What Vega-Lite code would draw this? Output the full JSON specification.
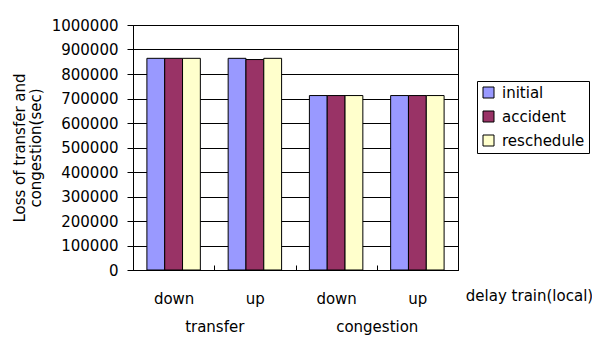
{
  "$schema": "https://vega.github.io/schema/vega-lite/v6.json",
  "width": 325,
  "height": 245,
  "autosize": {"type": "none"},
  "padding": {"left": 133, "top": 25, "right": 134, "bottom": 80},
  "background": "white",
  "config": {
    "font": "DejaVu Sans",
    "view": {"stroke": "black", "strokeWidth": 1},
    "axis": {
      "labelFont": "DejaVu Sans",
      "labelFontSize": 15,
      "labelColor": "black",
      "titleFont": "DejaVu Sans",
      "titleFontSize": 15,
      "titleFontWeight": "normal",
      "titleColor": "black"
    }
  },
  "data": {
    "values": [
      {"key": "transfer/down", "group": "transfer", "series": "initial", "value": 864000},
      {"key": "transfer/down", "group": "transfer", "series": "accident", "value": 864000},
      {"key": "transfer/down", "group": "transfer", "series": "reschedule", "value": 864000},
      {"key": "transfer/up", "group": "transfer", "series": "initial", "value": 864000},
      {"key": "transfer/up", "group": "transfer", "series": "accident", "value": 859000},
      {"key": "transfer/up", "group": "transfer", "series": "reschedule", "value": 864000},
      {"key": "congestion/down", "group": "congestion", "series": "initial", "value": 712000},
      {"key": "congestion/down", "group": "congestion", "series": "accident", "value": 712000},
      {"key": "congestion/down", "group": "congestion", "series": "reschedule", "value": 712000},
      {"key": "congestion/up", "group": "congestion", "series": "initial", "value": 712000},
      {"key": "congestion/up", "group": "congestion", "series": "accident", "value": 712000},
      {"key": "congestion/up", "group": "congestion", "series": "reschedule", "value": 712000}
    ]
  },
  "layer": [
    {
      "mark": {"type": "bar", "stroke": "black", "strokeWidth": 1},
      "encoding": {
        "x": {
          "field": "key",
          "type": "nominal",
          "sort": null,
          "scale": {"paddingInner": 0, "paddingOuter": 0},
          "axis": {
            "labelExpr": "split(datum.value, '/')[1]",
            "labelAngle": 0,
            "tickBand": "extent",
            "tickSize": -5,
            "tickColor": "black",
            "domainColor": "black",
            "labelPadding": 26,
            "title": "delay train(local)",
            "titleX": 396,
            "titleY": 25,
            "titleBaseline": "middle",
            "titleAlign": "center"
          }
        },
        "xOffset": {
          "field": "series",
          "sort": ["initial", "accident", "reschedule"],
          "scale": {"paddingInner": 0, "paddingOuter": 0.78}
        },
        "y": {
          "field": "value",
          "type": "quantitative",
          "scale": {"domain": [0, 1000000], "nice": false},
          "axis": {
            "values": [0, 100000, 200000, 300000, 400000, 500000, 600000, 700000, 800000, 900000, 1000000],
            "format": "d",
            "labelOverlap": false,
            "tickSize": 6,
            "tickColor": "black",
            "domainColor": "black",
            "gridColor": "black",
            "gridOpacity": 1,
            "labelPadding": 9,
            "title": ["Loss of transfer and", "congestion(sec)"],
            "titleX": -113.5,
            "titleY": 122.5,
            "titleBaseline": "middle",
            "titleAlign": "center",
            "titleLineHeight": 16
          }
        },
        "color": {
          "field": "series",
          "type": "nominal",
          "sort": ["initial", "accident", "reschedule"],
          "scale": {
            "domain": ["initial", "accident", "reschedule"],
            "range": ["#9999FF", "#993366", "#FFFFCC"]
          },
          "legend": {
            "title": null,
            "orient": "none",
            "legendX": 344,
            "legendY": 56,
            "strokeColor": "black",
            "fillColor": "white",
            "padding": 4,
            "symbolType": "square",
            "symbolSize": 121,
            "symbolStrokeColor": "black",
            "symbolStrokeWidth": 1,
            "symbolOpacity": 1,
            "labelFont": "DejaVu Sans",
            "labelFontSize": 15,
            "labelColor": "black",
            "labelOffset": 6,
            "rowPadding": 8
          }
        }
      }
    },
    {
      "mark": {"type": "point", "opacity": 0},
      "encoding": {
        "x": {
          "field": "group",
          "type": "nominal",
          "sort": null,
          "scale": {"paddingInner": 0, "paddingOuter": 0},
          "axis": {
            "orient": "bottom",
            "title": null,
            "domain": false,
            "ticks": false,
            "labelAngle": 0,
            "labelPadding": 49
          }
        }
      }
    }
  ],
  "resolve": {"scale": {"x": "independent"}}
}
